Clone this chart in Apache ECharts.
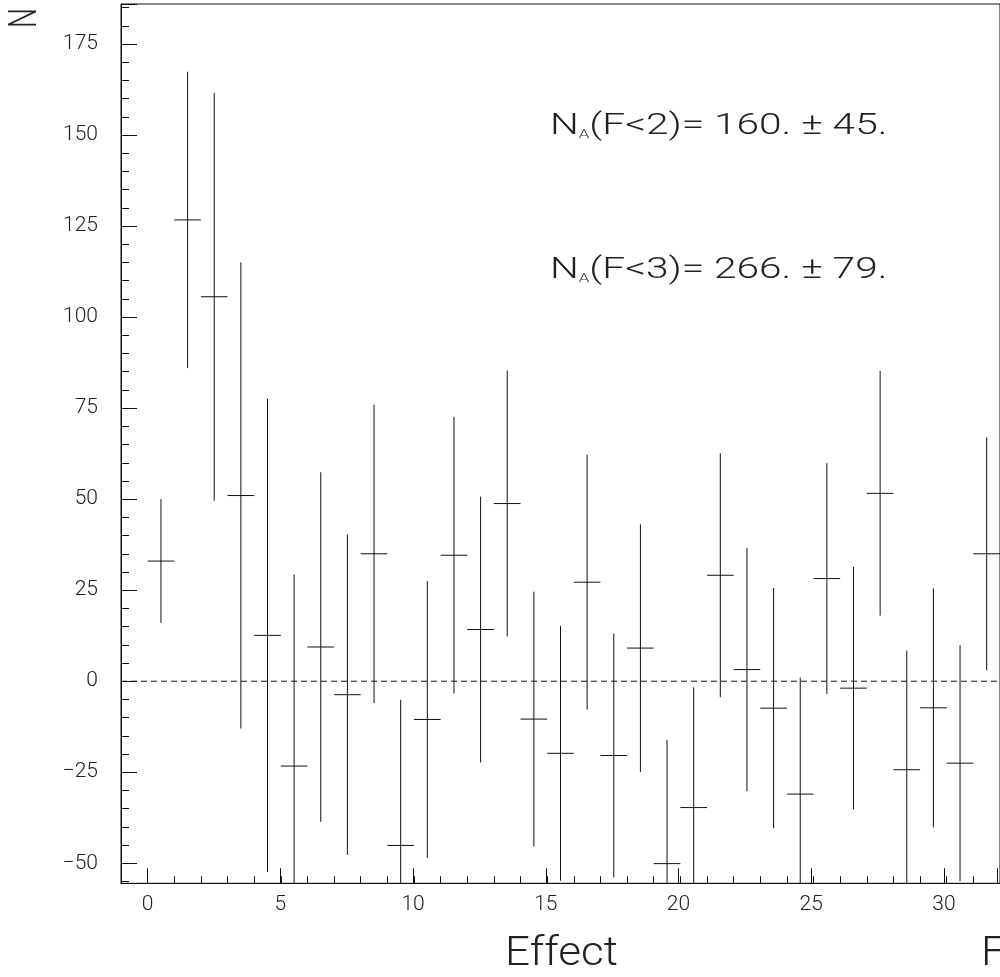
<!DOCTYPE html>
<html>
<head>
<meta charset="utf-8">
<script src="https://cdn.jsdelivr.net/npm/echarts@6/dist/echarts.min.js"></script>
<style>
html,body{margin:0;padding:0;background:#fff;}
#chart{width:1000px;height:977px;}
</style>
</head>
<body>
<div id="chart"></div>
<script>
// ---- data ----
const binCenters = [0.5,1.5,2.5,3.5,4.5,5.5,6.5,7.5,8.5,9.5,10.5,11.5,12.5,13.5,14.5,15.5,
                    16.5,17.5,18.5,19.5,20.5,21.5,22.5,23.5,24.5,25.5,26.5,27.5,28.5,29.5,30.5,31.5];
const binValues = [33.0,126.7,105.6,51.0,12.6,-23.3,9.4,-3.7,35.0,-45.1,-10.5,34.6,14.2,48.8,-10.4,-19.8,
                   27.2,-20.4,9.1,-50.1,-34.7,29.1,3.2,-7.4,-31.0,28.2,-1.9,51.6,-24.3,-7.3,-22.5,35.0];
const binErrors = [17.0,40.7,56.0,64.0,65.0,52.6,48.0,44.0,41.0,40.0,38.0,38.0,36.5,36.5,35.0,35.0,
                   35.0,33.5,34.0,34.0,33.0,33.5,33.4,33.0,32.0,31.7,33.3,33.6,32.7,32.8,32.4,32.0];
const binWidth = 1;
const xTickLabels = [0,5,10,15,20,25,30];
const yTickLabels = [-50,-25,0,25,50,75,100,125,150,175];
const annotations = ['N_A(F<2)= 160. ± 45.', 'N_A(F<3)= 266. ± 79.'];
const xTitle = 'Effect';
const xTitle2 = 'F';
const yTitle = 'N';

// ---- layout ----
const W = 1000, H = 977;
const xMin = -1, xMax = 32, yMin = -55.5, yMax = 186;
const pL = 121, pT = 4, pB = 883.3, pR = 1001.7;
const pxX = (pR - pL) / (xMax - xMin);
const pxY = (pB - pT) / (yMax - yMin);
const xPix = v => pL + (v - xMin) * pxX;
const yPix = v => pT + (yMax - v) * pxY;

const FONT = 'Roboto';
const INK = '#111';
const TXT = '#222';

const chart = echarts.init(document.getElementById('chart'), null, {renderer: 'canvas'});

const noZero = {show: false, onZero: false};
const hiddenAxis = (gi, extra) => Object.assign({gridIndex: gi, type: 'value', show: false,
  axisLine: noZero, axisTick: {show: false}, axisLabel: {show: false}, splitLine: {show: false}}, extra || {});

const errData = binCenters.map((c, i) => [c, binValues[i], binErrors[i]]);

function annRich(str) {
  const m = str.match(/^N_A(.*)$/);
  return '{n|N}{s|A}{t|' + m[1] + '}';
}
const annRichStyles = {
  n: {fontFamily: FONT, fontWeight: 300, fontSize: 29, lineHeight: 29, fill: TXT, verticalAlign: 'bottom'},
  s: {fontFamily: FONT, fontWeight: 300, fontSize: 12, lineHeight: 29, fill: TXT, verticalAlign: 'bottom'},
  t: {fontFamily: FONT, fontWeight: 300, fontSize: 29, lineHeight: 29, fill: TXT, verticalAlign: 'bottom'}
};

const option = {
  backgroundColor: '#fff',
  animation: false,
  grid: [
    {left: pL, top: pT, width: pR - pL, height: pB - pT, show: true, borderColor: INK, borderWidth: 1},
    {left: pL, top: pT, width: pR - pL, height: yPix(-55) - pT},
    {left: pL, top: pT, width: pR - pL, height: yPix(-50) - pT},
    {left: xPix(0), top: pT, width: pR - xPix(0), height: pB - pT}
  ],
  xAxis: [
    {gridIndex: 0, type: 'value', min: xMin, max: xMax, interval: 1, position: 'bottom',
     axisLine: {show: true, onZero: false, lineStyle: {color: INK, width: 1}},
     axisTick: {show: true, inside: true, length: 7, lineStyle: {color: INK, width: 1}},
     axisLabel: {show: false}, splitLine: {show: false}},
    hiddenAxis(1, {min: xMin, max: xMax}),
    hiddenAxis(2, {min: xMin, max: xMax}),
    {gridIndex: 3, type: 'value', min: 0, max: xMax, interval: 5, position: 'bottom',
     axisLine: {show: false, onZero: false},
     axisTick: {show: true, inside: true, length: 15, lineStyle: {color: INK, width: 1}},
     axisLabel: {show: true, margin: 11, color: TXT, fontFamily: FONT, fontWeight: 300, fontSize: 21,
                 formatter: v => xTickLabels.indexOf(v) >= 0 ? String(v) : ''},
     splitLine: {show: false}}
  ],
  yAxis: [
    {gridIndex: 0, type: 'value', min: yMin, max: yMax, position: 'left',
     axisLine: {show: true, onZero: false, lineStyle: {color: INK, width: 1}},
     axisTick: {show: false}, axisLabel: {show: false}, splitLine: {show: false}},
    {gridIndex: 1, type: 'value', min: -55, max: yMax, interval: 5, position: 'left',
     axisLine: {show: false, onZero: false},
     axisTick: {show: true, inside: true, length: 8, lineStyle: {color: INK, width: 1}},
     axisLabel: {show: false}, splitLine: {show: false}},
    {gridIndex: 2, type: 'value', min: -50, max: yMax, interval: 25, position: 'left',
     axisLine: {show: false, onZero: false},
     axisTick: {show: true, inside: true, length: 16, lineStyle: {color: INK, width: 1}},
     axisLabel: {show: true, margin: 23, color: TXT, fontFamily: FONT, fontWeight: 300, fontSize: 21,
                 formatter: v => yTickLabels.indexOf(v) >= 0 ? (v < 0 ? '\u2212' + Math.abs(v) : String(v)) : ''},
     splitLine: {show: false}},
    hiddenAxis(3, {min: yMin, max: yMax})
  ],
  series: [
    {
      type: 'line', xAxisIndex: 0, yAxisIndex: 0,
      data: [[xMin, 0], [xMax, 0]], symbol: 'none', silent: true,
      lineStyle: {color: INK, width: 1, type: [6, 4], dashOffset: 0}
    },
    {
      type: 'custom', xAxisIndex: 0, yAxisIndex: 0, clip: true, silent: true,
      data: errData,
      renderItem: function (params, api) {
        const x = api.value(0), y = api.value(1), e = api.value(2);
        const top = api.coord([x, y + e]);
        const bot = api.coord([x, y - e]);
        const l = api.coord([x - binWidth / 2, y]);
        const r = api.coord([x + binWidth / 2, y]);
        const style = {stroke: INK, lineWidth: 1, fill: null};
        return {
          type: 'group',
          children: [
            {type: 'line', shape: {x1: top[0], y1: top[1], x2: bot[0], y2: bot[1]}, style: style},
            {type: 'line', shape: {x1: l[0], y1: l[1], x2: r[0], y2: r[1]}, style: style}
          ]
        };
      }
    }
  ],
  graphic: [
    {type: 'text', x: 505, y: 935, scaleX: 1.1,
     style: {text: xTitle, font: '300 40px ' + FONT, fill: TXT, align: 'left', verticalAlign: 'top'}},
    {type: 'text', x: 981, y: 935, scaleX: 1.1,
     style: {text: xTitle2, font: '300 40px ' + FONT, fill: TXT, align: 'left', verticalAlign: 'top'}},
    {type: 'text', x: 26, y: 18, rotation: Math.PI / 2, scaleX: 0.72,
     style: {text: yTitle, font: '300 39px ' + FONT, fill: TXT, align: 'center', verticalAlign: 'middle'}},
    {type: 'text', x: 550, y: 112, scaleX: 1.4,
     style: {text: annRich(annotations[0]), fill: TXT, align: 'left', verticalAlign: 'top', rich: annRichStyles}},
    {type: 'text', x: 550, y: 256, scaleX: 1.4,
     style: {text: annRich(annotations[1]), fill: TXT, align: 'left', verticalAlign: 'top', rich: annRichStyles}}
  ]
};
chart.setOption(option);
</script>
</body>
</html>
